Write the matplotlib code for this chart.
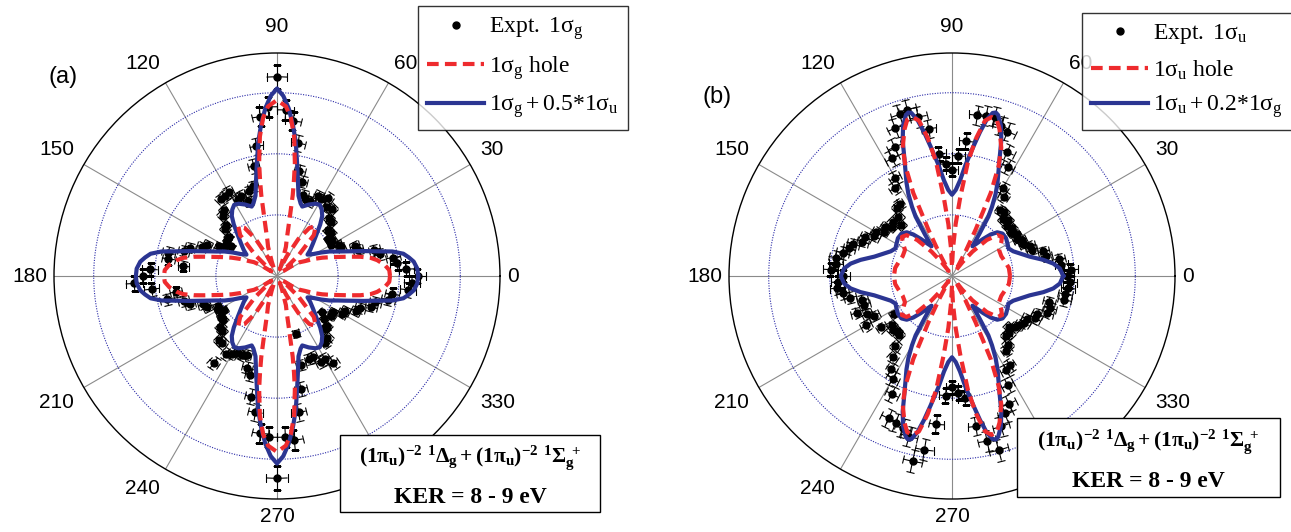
import numpy as np
import matplotlib
matplotlib.use('Agg')
import matplotlib.pyplot as plt
from matplotlib.lines import Line2D
from matplotlib.patches import Rectangle

plt.rcParams['font.family'] = ['Liberation Sans', 'DejaVu Sans']
plt.rcParams['mathtext.fontset'] = 'custom'
plt.rcParams['mathtext.rm'] = 'Liberation Serif'
plt.rcParams['mathtext.it'] = 'Liberation Serif:italic'
plt.rcParams['mathtext.bf'] = 'Liberation Serif:bold'

RMAX = 3.65
BLUE = '#2b3592'
RED = '#ee2b2e'
DASH = (2.8, 1.5)

# ---- theory curves, first quadrant (deg, r); the figure is symmetric about both axes
blue_a_ang = [0, 3, 6, 8, 10, 12, 14, 16, 18, 20, 22, 25, 28, 31, 35, 38, 42, 46, 50, 53,
              56, 59, 62, 66, 70, 72, 75, 78, 80, 82, 84, 86, 88, 90]
blue_a_r = [2.31, 2.30, 2.25, 2.18, 2.10, 1.93, 1.67, 1.48, 1.31, 1.18, 1.07, 0.95, 0.82, 0.70,
            0.61, 0.69, 0.79, 0.92, 1.10, 1.23, 1.31, 1.36, 1.34, 1.28, 1.21, 1.25, 1.36, 1.64,
            1.89, 2.21, 2.49, 2.75, 2.95, 3.07]

red_a_ang = [0, 3, 6, 9, 11, 13, 15, 17, 19, 22, 25, 28, 31, 34, 37, 40, 44, 48, 52, 56, 60,
             64, 67, 70, 73, 75, 77, 78, 79, 80, 81, 83, 85, 87, 90]
red_a_r = [1.85, 1.84, 1.77, 1.66, 1.56, 1.40, 1.22, 1.07, 0.95, 0.80, 0.66, 0.52, 0.44, 0.30,
           0.15, 0.12, 0.50, 0.90, 1.03, 0.95, 0.70, 0.35, 0.12, 0.25, 0.50, 0.61, 0.85, 1.05,
           1.35, 1.60, 1.87, 2.30, 2.60, 2.78, 2.88]

blue_b_ang = [0, 4, 7, 10, 14, 18, 22, 26, 30, 35, 40, 44, 47, 50, 53, 55.5, 57, 58.5, 60, 62,
              64, 66, 68, 70, 72, 74, 75, 76, 77.5, 79, 80.6, 83, 85.2, 87.5, 90]
blue_b_r = [1.82, 1.77, 1.67, 1.52, 1.31, 1.18, 1.08, 1.03, 1.05, 1.08, 1.08, 1.03, 0.93, 0.79,
            0.66, 0.59, 0.82, 1.14, 1.31, 1.52, 1.70, 1.87, 2.08, 2.36, 2.59, 2.74, 2.77, 2.75,
            2.62, 2.40, 2.15, 1.84, 1.57, 1.41, 1.33]

red_b_ang = [0, 8, 15, 22, 29, 34, 38, 42, 46, 50, 53, 56, 59, 61, 63, 65, 67, 69, 72, 74, 76,
             78, 80, 82, 84, 86, 88, 90]
red_b_r = [0.95, 0.94, 0.90, 0.87, 0.88, 0.97, 1.04, 1.00, 0.82, 0.52, 0.28, 0.10, 0.20, 0.45,
           0.85, 1.50, 1.95, 2.25, 2.52, 2.66, 2.68, 2.60, 2.30, 1.90, 1.30, 0.85, 0.45, 0.15]

# ---- experimental points, every 3 deg from 0 to 357
expt_ang = list(range(0, 360, 3))
expt_a = [2.30, 2.12, 1.98, 1.93, 1.72, 1.65, 1.40, 1.36, 1.15, 1.13, 1.03, 1.08, 1.04, 1.13, 1.12,
          1.25, 1.27, 1.42, 1.40, 1.52, 1.45, 1.47, 1.34, 1.33, 1.40, 1.60, 1.76, 2.20, 2.55, 2.72,
          3.26, 2.77, 2.62, 2.15, 1.84, 1.52, 1.46, 1.31, 1.44, 1.42, 1.58, 1.57, 1.55, 1.38, 1.33,
          1.17, 1.15, 1.02, 1.01, 0.90, 0.98, 1.07, 1.25, 1.32, 1.50, 1.58, 1.82, 1.80, 1.54, 2.08,
          2.20, 2.34, 2.06, 1.67, 1.84, 1.58, 1.50, 1.30, 1.25, 1.09, 1.11, 1.03, 1.13, 1.14, 1.25,
          1.27, 1.41, 1.42, 1.76, 1.52, 1.47, 1.41, 1.42, 1.38, 1.58, 1.68, 2.02, 2.26, 2.59, 2.64,
          3.31, 2.64, 2.70, 2.26, 1.89, 1.51, 0.99, 1.46, 1.45, 1.58, 1.57, 1.69, 1.35, 1.31, 1.17,
          1.15, 1.04, 0.94, 1.10, 1.09, 1.23, 1.25, 1.41, 1.45, 1.62, 1.66, 1.86, 1.91, 2.16, 2.21]
expt_b = [1.89, 1.95, 1.80, 1.77, 1.58, 1.55, 1.38, 1.37, 1.27, 1.29, 1.22, 1.26, 1.20, 1.26, 1.22,
          1.29, 1.25, 1.34, 1.33, 1.55, 1.66, 2.01, 2.22, 2.53, 2.58, 2.70, 2.68, 2.66, 2.22, 1.97,
          1.74, 1.84, 2.01, 2.44, 2.66, 2.82, 2.78, 2.59, 2.31, 2.16, 1.86, 1.72, 1.46, 1.43, 1.31,
          1.18, 1.31, 1.27, 1.36, 1.33, 1.43, 1.43, 1.55, 1.57, 1.71, 1.75, 1.83, 1.93, 1.91, 1.99,
          1.78, 1.87, 1.89, 1.81, 1.71, 1.52, 1.51, 1.67, 1.52, 1.43, 1.62, 1.14, 1.43, 1.27, 1.31,
          1.27, 1.30, 1.47, 1.64, 1.82, 1.94, 2.17, 2.55, 2.57, 2.62, 2.72, 3.10, 2.88, 2.44, 1.96,
          1.82, 1.92, 2.01, 2.49, 2.76, 2.95, 2.59, 2.41, 2.29, 2.01, 1.78, 1.74, 1.51, 1.45, 1.32,
          1.33, 1.25, 1.33, 1.36, 1.41, 1.41, 1.53, 1.53, 1.67, 1.69, 1.64, 1.88, 1.87, 1.91, 1.93]
expt_dang = 3.0   # deg, half width of the angular bin
expt_rel_err = 0.06

tick_angles = list(range(0, 360, 30))


def full_curve(ang, r):
    ang = np.asarray(ang, dtype=float)
    r = np.asarray(r, dtype=float)
    th = np.concatenate([ang, 180 - ang[::-1], 180 + ang, 360 - ang[::-1]])
    rr = np.concatenate([r, r[::-1], r, r[::-1]])
    return np.deg2rad(th), rr


def setup_polar(ax):
    ax.set_ylim(0, RMAX)
    ax.set_yticks([1, 2, 3])
    ax.set_yticklabels([])
    ax.set_xticks(np.deg2rad(tick_angles))
    ax.set_xticklabels([])
    ax.set_xticks(np.deg2rad(np.arange(0, 360, 10)), minor=True)
    ax.tick_params(axis='x', which='both', direction='in', length=6, width=0.8, color='k')
    ax.xaxis.grid(True, which='major', color='#8a8a8a', lw=0.8, ls='-')
    ax.xaxis.grid(False, which='minor')
    ax.yaxis.grid(True, color='#2a2aa8', lw=0.8, ls=(0, (1, 1.3)))
    ax.spines['polar'].set_linewidth(1.0)
    ax.spines['polar'].set_color('k')
    ax.set_axisbelow(True)
    for a in tick_angles:
        t = np.deg2rad(a)
        c, s = np.cos(t), np.sin(t)
        ha = 'left' if c > 0.1 else ('right' if c < -0.1 else 'center')
        va = 'bottom' if s > 0.1 else ('top' if s < -0.1 else 'center')
        if abs(c) > 0.9:
            f = 1.03
        elif s > 0.9:
            f = 1.075
        elif s < -0.9:
            f = 1.035
        else:
            f = 1.05
        ax.text(t, RMAX * f, str(a), ha=ha, va=va, fontsize=15, clip_on=False)


def draw_panel(ax, data_r, blue_ang, blue_r, red_ang, red_r):
    setup_polar(ax)
    th = np.deg2rad(expt_ang)
    r = np.asarray(data_r)
    ax.errorbar(th, r, xerr=np.deg2rad(expt_dang), yerr=expt_rel_err * r, fmt='o',
                color='k', ms=5, elinewidth=0.8, capsize=3, capthick=0.8, zorder=3)
    tb, rb = full_curve(blue_ang, blue_r)
    ax.plot(tb, rb, color=BLUE, lw=3.0, zorder=4)
    tr, rr = full_curve(red_ang, red_r)
    ax.plot(tr, rr, color=RED, lw=3.0, dashes=DASH, zorder=5)


W, H = 1291, 532
fig = plt.figure(figsize=(W / 100, H / 100), dpi=100)

R_PX = 223
ax_a = fig.add_axes([(277 - R_PX) / W, (H - 276 - R_PX) / H, 2 * R_PX / W, 2 * R_PX / H],
                    projection='polar')
ax_b = fig.add_axes([(952 - R_PX) / W, (H - 276 - R_PX) / H, 2 * R_PX / W, 2 * R_PX / H],
                    projection='polar')

draw_panel(ax_a, expt_a, blue_a_ang, blue_a_r, red_a_ang, red_a_r)
draw_panel(ax_b, expt_b, blue_b_ang, blue_b_r, red_b_ang, red_b_r)

fig.text(63 / W, 1 - 77 / H, '(a)', ha='center', va='center', fontsize=17)
fig.text(717 / W, 1 - 97 / H, '(b)', ha='center', va='center', fontsize=17)


# legends
def make_legend(labels, x0, y0):
    handles = [Line2D([], [], ls='', marker='o', color='k', ms=5),
               Line2D([], [], color=RED, lw=3.0, dashes=DASH),
               Line2D([], [], color=BLUE, lw=3.0)]
    leg = fig.legend(handles, labels, loc='upper left', bbox_to_anchor=(x0 / W, 1 - y0 / H),
                     bbox_transform=fig.transFigure, fontsize=17, frameon=True, fancybox=False,
                     edgecolor='k', handlelength=2.4, handletextpad=0.2, labelspacing=0.5,
                     borderpad=0.4, borderaxespad=0)
    leg.get_frame().set_linewidth(1.0)
    leg.set_zorder(10)


make_legend([r'$\mathrm{Expt.\ 1\sigma_g}$', r'$\mathrm{1\sigma_g\ hole}$',
             r'$\mathrm{1\sigma_g + 0.5{*}1\sigma_u}$'], 418, 6)
make_legend([r'$\mathrm{Expt.\ 1\sigma_u}$', r'$\mathrm{1\sigma_u\ hole}$',
             r'$\mathrm{1\sigma_u + 0.2{*}1\sigma_g}$'], 1082, 13)

# state / KER boxes
state_txt = r'$\mathbf{(1\pi_u)^{-2}\ {}^1\Delta_g + (1\pi_u)^{-2}\ {}^1\Sigma_g^{\ +}}$'
for (x0, y0, x1, y1) in [(340, 435, 600, 512), (1017, 418, 1280, 497)]:
    fig.add_artist(Rectangle((x0 / W, 1 - y1 / H), (x1 - x0) / W, (y1 - y0) / H,
                             transform=fig.transFigure, fc='white', ec='k', lw=1.0, zorder=9))
    xc = (x0 + x1) / 2 / W
    fig.text(xc, 1 - (y0 + 0.30 * (y1 - y0)) / H, state_txt, ha='center', va='center',
             fontsize=15.5, zorder=11)
    fig.text(xc, 1 - (y0 + 0.81 * (y1 - y0)) / H, 'KER = 8 - 9 eV', ha='center', va='center',
             fontsize=17, fontweight='bold', family='Liberation Serif', zorder=11)

fig.savefig('out.png', dpi=100)
